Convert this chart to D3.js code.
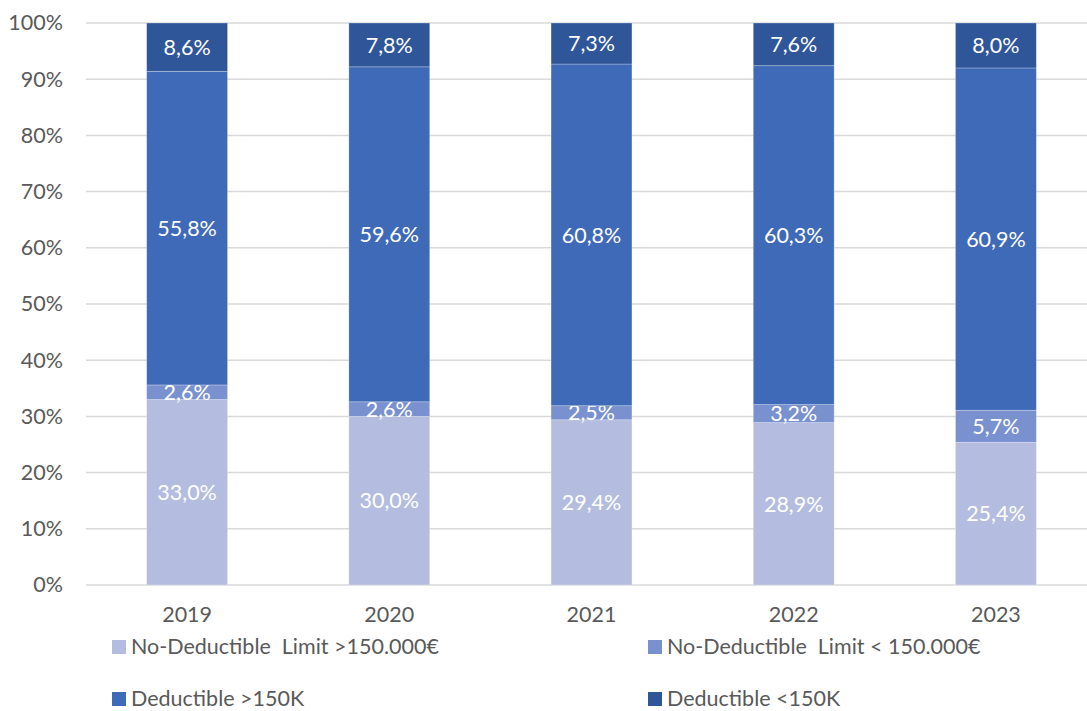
<!DOCTYPE html>
<html>
<head>
<meta charset="utf-8">
<script src="https://cdn.jsdelivr.net/npm/d3@7/dist/d3.min.js"></script>
<style>
  html, body { margin: 0; padding: 0; background: #fff; }
  svg { display: block; }
  text { font-family: Lato, "Open Sans", sans-serif; }
</style>
</head>
<body>
<svg id="chart" width="1087" height="711"></svg>
<script>
// Share of each segment per year (percent)
const years = ["2019", "2020", "2021", "2022", "2023"];
const seriesNames = [
  "No-Deductible  Limit >150.000€",
  "No-Deductible  Limit < 150.000€",
  "Deductible >150K",
  "Deductible <150K"
];
const noDedHigh = [33.0, 30.0, 29.4, 28.9, 25.4];
const noDedLow  = [2.6, 2.6, 2.5, 3.2, 5.7];
const dedHigh   = [55.8, 59.6, 60.8, 60.3, 60.9];
const dedLow    = [8.6, 7.8, 7.3, 7.6, 8.0];
const yTicks = [0, 10, 20, 30, 40, 50, 60, 70, 80, 90, 100];
const colors = ["#B4BDDF", "#7A91D0", "#3F6AB8", "#30569A"];

const FS = 21.5;
const seriesValues = [noDedHigh, noDedLow, dedHigh, dedLow];
const rows = years.map((y, i) => {
  const r = { year: y };
  seriesNames.forEach((s, k) => { r[s] = seriesValues[k][i]; });
  return r;
});

const svg = d3.select("#chart");
const margin = { left: 86, right: -10, top: 23, bottom: 126 };
const W = 1087, H = 711;

const x = d3.scaleBand().domain(years).range([margin.left, W - margin.right]).paddingInner(0.6).paddingOuter(0.3);
const y = d3.scaleLinear().domain([0, 100]).range([H - margin.bottom, margin.top]);

// gridlines
svg.append("g").selectAll("line").data(yTicks).join("line")
  .attr("x1", margin.left).attr("x2", W)
  .attr("y1", d => y(d)).attr("y2", d => y(d))
  .attr("stroke", "#D9D9D9").attr("stroke-width", 1.5);

// y axis labels
const yAxis = d3.axisLeft(y).tickValues(yTicks).tickFormat(d => d + "%").tickSize(0).tickPadding(0);
const gy = svg.append("g").attr("transform", `translate(63,0)`).call(yAxis);
gy.select(".domain").remove();
gy.selectAll("text").attr("font-size", FS).attr("fill", "#595959")
  .style("font-family", "Lato, 'Open Sans', sans-serif");

// stacked bars
const stack = d3.stack().keys(seriesNames);
const layers = stack(rows);

const g = svg.append("g");
layers.forEach((layer, k) => {
  const lg = g.append("g");
  lg.selectAll("rect").data(layer).join("rect")
    .attr("x", d => x(d.data.year))
    .attr("width", x.bandwidth())
    .attr("y", d => y(d[1]))
    .attr("height", d => y(d[0]) - y(d[1]))
    .attr("fill", colors[k])
    .attr("stroke", "rgba(255,255,255,0.35)")
    .attr("stroke-width", 0.75);
  lg.selectAll("text").data(layer).join("text")
    .attr("x", d => x(d.data.year) + x.bandwidth() / 2)
    .attr("y", d => y((d[0] + d[1]) / 2))
    .attr("dy", "0.36em")
    .attr("text-anchor", "middle")
    .attr("font-size", FS)
    .attr("fill", "#FFFFFF")
    .text(d => d3.format(".1f")(d[1] - d[0]).replace(".", ",") + "%");
});

// x axis labels
const xAxis = d3.axisBottom(x).tickSize(0).tickPadding(0);
const gx = svg.append("g").attr("transform", `translate(0,${H - margin.bottom + 22})`).call(xAxis);
gx.select(".domain").remove();
gx.selectAll("text").attr("font-size", FS).attr("fill", "#595959")
  .style("font-family", "Lato, 'Open Sans', sans-serif");

// legend
const legendPos = [[112, 647], [648, 647], [112, 699], [648, 699]];
const leg = svg.append("g");
seriesNames.forEach((s, k) => {
  const [lx, ly] = legendPos[k];
  leg.append("rect").attr("x", lx).attr("y", ly - 7).attr("width", 14).attr("height", 14).attr("fill", colors[k]);
  leg.append("text").attr("x", lx + 19).attr("y", ly).attr("dy", "0.34em")
    .attr("font-size", FS).attr("fill", "#595959")
    .style("white-space", "pre")
    .text(s);
});
</script>
</body>
</html>
